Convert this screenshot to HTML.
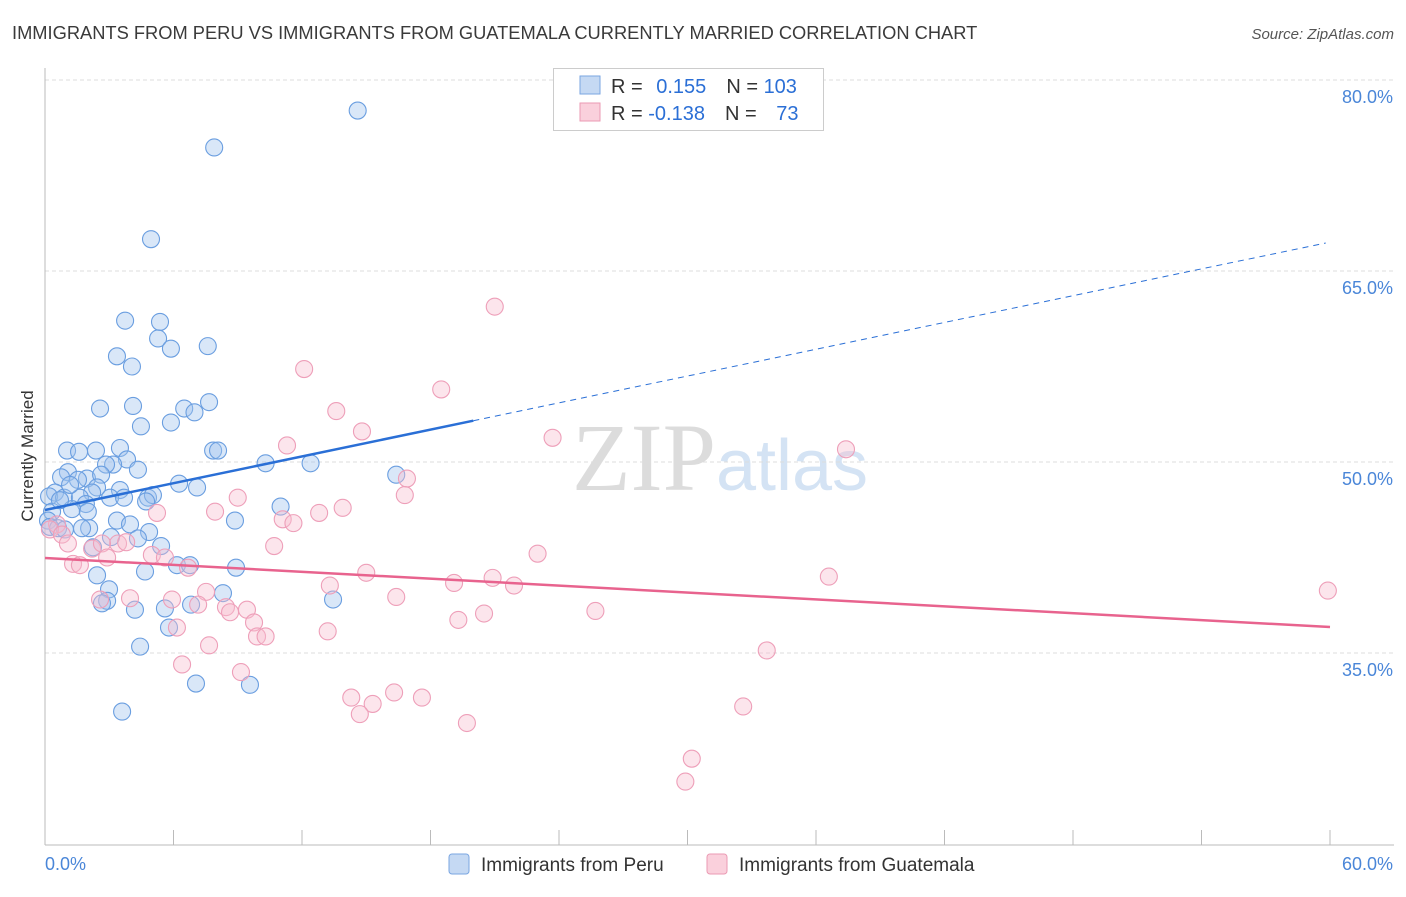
<!DOCTYPE html>
<html><head><meta charset="utf-8"><style>
body{margin:0;background:#fff;font-family:"Liberation Sans",sans-serif;}
svg text{font-family:"Liberation Sans",sans-serif;}
</style></head><body>
<svg id="chart" width="1406" height="892" xmlns="http://www.w3.org/2000/svg">
<text x="12" y="39" font-size="18.3" fill="#3a3a3a">IMMIGRANTS FROM PERU VS IMMIGRANTS FROM GUATEMALA CURRENTLY MARRIED CORRELATION CHART</text>
<text x="1394" y="39" font-size="15" fill="#555" text-anchor="end" font-style="italic">Source: ZipAtlas.com</text>
<text x="720" y="490" font-size="96" fill="#e4e4e4" text-anchor="middle" font-family="Liberation Serif"><tspan font-family="Liberation Serif" fill="#dcdcdc">ZIP</tspan><tspan font-family="Liberation Sans" font-size="72" fill="#d4e3f4">atlas</tspan></text>
<g id="grid"></g><g id="axes"></g><g id="pts"></g><g id="lines"></g>
<text transform="translate(33,456) rotate(-90)" font-size="17" fill="#333" text-anchor="middle">Currently Married</text>
<g>
<rect x="553.5" y="68.5" width="270" height="62" fill="#fff" stroke="#ccc"/>
<rect x="580" y="76" width="20" height="18" fill="#c5d9f3" stroke="#7aa6e2"/>
<rect x="580" y="103" width="20" height="18" fill="#fad0dc" stroke="#eb9ab3"/>
<text x="611" y="93" font-size="20" fill="#333">R = <tspan fill="#2b6fd6" dx="8">0.155</tspan><tspan dx="20" fill="#333">N = </tspan><tspan fill="#2b6fd6">103</tspan></text>
<text x="611" y="120" font-size="20" fill="#333">R = <tspan fill="#2b6fd6">-0.138</tspan><tspan dx="20" fill="#333">N = </tspan><tspan fill="#2b6fd6" dx="14">73</tspan></text>
</g>
<g>
<rect x="449" y="854" width="20" height="20" rx="3" fill="#c5d9f3" stroke="#7aa6e2"/>
<text x="481" y="871" font-size="19" fill="#333">Immigrants from Peru</text>
<rect x="707" y="854" width="20" height="20" rx="3" fill="#fad0dc" stroke="#eb9ab3"/>
<text x="739" y="871" font-size="19" fill="#333">Immigrants from Guatemala</text>
</g>
</svg>
<script>
const yTicks=[80,65,50,35];
const xTickLabels=["0.0%","60.0%"];
const peruX=[14.6,7.9,4.95,3.74,5.37,5.28,5.88,7.6,3.36,4.06,2.57,4.11,6.5,6.98,7.66,4.48,5.88,1.03,2.38,3.5,1.59,3.83,3.18,2.85,7.85,8.08,10.3,12.4,16.4,4.34,1.07,0.75,1.96,2.62,1.54,2.43,3.5,2.2,0.47,0.19,0.89,1.63,3.04,4.81,5.04,4.72,3.69,6.26,7.1,1.91,1.26,2.0,11.0,8.87,3.36,3.97,0.33,0.14,0.23,0.61,0.93,2.06,1.73,3.08,4.86,4.34,2.24,5.42,6.16,6.77,4.67,2.43,8.92,2.99,2.9,2.66,4.2,5.6,6.82,8.31,5.79,13.45,4.44,7.05,9.57,3.6,0.7,1.17];
const peruY=[77.6,74.7,67.5,61.1,61.0,59.7,58.9,59.1,58.3,57.5,54.2,54.4,54.2,53.9,54.7,52.8,53.1,50.9,50.9,51.1,50.8,50.2,49.8,49.8,50.9,50.9,49.9,49.9,49.0,49.4,49.2,48.8,48.7,49.0,48.6,48.0,47.8,47.6,47.6,47.3,47.2,47.2,47.2,47.2,47.4,46.9,47.2,48.3,48.0,46.7,46.3,46.1,46.5,45.4,45.4,45.1,46.1,45.4,44.9,44.8,44.7,44.8,44.8,44.1,44.5,44.0,43.3,43.4,41.9,41.9,41.4,41.1,41.7,40.0,39.1,38.9,38.4,38.5,38.8,39.7,37.0,39.2,35.5,32.6,32.5,30.4,47.0,48.2];
const guatX=[21.0,12.1,18.5,13.6,14.8,23.7,11.3,37.4,16.9,16.8,9.0,13.9,12.8,7.94,5.23,11.1,11.6,0.56,0.23,0.79,1.07,2.2,3.41,3.79,2.66,10.7,4.99,5.6,2.9,23.0,1.31,1.63,6.68,15.0,36.6,20.9,19.1,21.9,13.3,59.9,16.4,7.52,3.97,5.93,7.15,8.45,9.43,8.64,25.7,20.5,19.3,9.76,6.16,13.2,9.9,10.3,7.66,33.7,6.4,9.15,14.3,16.3,17.6,15.3,14.7,32.6,19.7,30.2,29.9,2.57];
const guatY=[62.2,57.3,55.7,54.0,52.4,51.9,51.3,51.0,48.7,47.4,47.2,46.4,46.0,46.1,46.0,45.5,45.2,45.1,44.7,44.3,43.6,43.2,43.6,43.7,43.6,43.4,42.7,42.5,42.5,42.8,42.0,41.9,41.7,41.3,41.0,40.9,40.5,40.3,40.3,39.9,39.4,39.8,39.3,39.2,38.8,38.6,38.4,38.2,38.3,38.1,37.6,37.4,37.0,36.7,36.3,36.3,35.6,35.2,34.1,33.5,31.5,31.9,31.5,31.0,30.2,30.8,29.5,26.7,24.9,39.2];
const peruTrend=[46.23,67.2];
const guatTrend=[42.46,37.04];
const X=v=>45+v*(1285/60), Y=v=>80+(80-v)*(191/15);
const NS="http://www.w3.org/2000/svg";
function mk(p,t,a){const e=document.createElementNS(NS,t);for(const k in a)e.setAttribute(k,a[k]);p.appendChild(e);return e;}
const grid=document.getElementById('grid'),axes=document.getElementById('axes'),pts=document.getElementById('pts'),lines=document.getElementById('lines');
yTicks.forEach(t=>{const l=mk(grid,'line',{x1:45,x2:1394,y1:Y(t),y2:Y(t),stroke:'#ddd','stroke-dasharray':'4,3'});


const tx=mk(grid,'text',{x:1393,y:Y(t)+23,'font-size':18,fill:'#4a86d8','text-anchor':'end'});tx.textContent=t.toFixed(1)+'%';

});
const ax=mk(axes,'line',{x1:45,x2:45,y1:68,y2:845,stroke:'#bbb'});


const bx=mk(axes,'line',{x1:45,x2:1394,y1:845,y2:845,stroke:'#bbb'});


for(let i=0;i<=10;i++){const tk=mk(axes,'line',{x1:X(i*6),x2:X(i*6),y1:830,y2:845,stroke:'#bbb'});

}
[[0,'start',45],[60,'end',1393]].forEach((d,i)=>{const t=mk(axes,'text',{x:d[2],y:870,'font-size':18,fill:'#4a86d8','text-anchor':d[1]});t.textContent=xTickLabels[i];

});
peruX.forEach((x,i)=>{const c=mk(pts,'circle',{cx:X(x),cy:Y(peruY[i]),r:8.5,fill:'rgba(160,196,238,0.4)',stroke:'#6a9ee0','stroke-width':1.1});

});
guatX.forEach((x,i)=>{const c=mk(pts,'circle',{cx:X(x),cy:Y(guatY[i]),r:8.5,fill:'rgba(248,190,208,0.4)',stroke:'#ee9fb9','stroke-width':1.1});

});
const pAt=x=>peruTrend[0]+(peruTrend[1]-peruTrend[0])*x/59.8;
const l1=mk(lines,'line',{x1:X(0),y1:Y(pAt(0)),x2:X(20),y2:Y(pAt(20)),stroke:'#2a6fd6','stroke-width':2.5});


const l2=mk(lines,'line',{x1:X(20),y1:Y(pAt(20)),x2:X(59.8),y2:Y(pAt(59.8)),stroke:'#2a6fd6','stroke-width':1,'stroke-dasharray':'6,5'});


const l3=mk(lines,'line',{x1:X(0),y1:Y(guatTrend[0]),x2:X(60),y2:Y(guatTrend[1]),stroke:'#e8638e','stroke-width':2.5});


</script>
</body></html>
